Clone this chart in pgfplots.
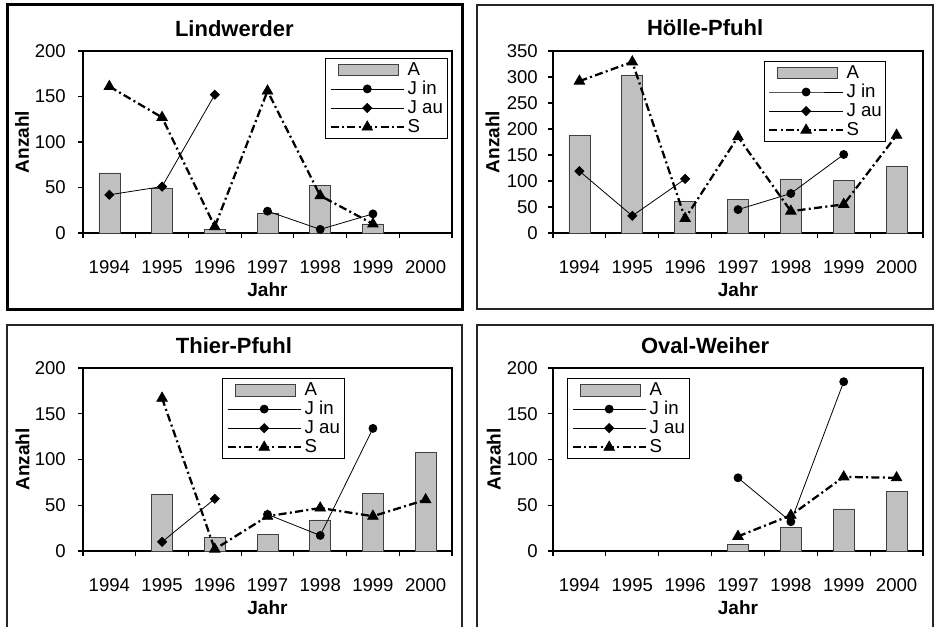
\documentclass[border=0pt]{standalone}
\usepackage{fontspec}
\setmainfont{Liberation Sans}
\usepackage{pgfplots}
\pgfplotsset{compat=1.18}
\definecolor{bargray}{RGB}{192,192,192}
\newcommand{\legfont}{\fontsize{14}{16}\selectfont}

\pgfplotsset{
  panel/.style={
    scale only axis,
    xmin=1993.5, xmax=2000.5,
    ymin=0,
    xtick={1994,1995,1996,1997,1998,1999,2000},
    xticklabels={1994,1995,1996,1997,1998,1999,2000},
    minor xtick={1993.5,1994.5,1995.5,1996.5,1997.5,1998.5,1999.5,2000.5},
    major x tick style={draw=none},
    major tick length=3.75pt,
    minor tick length=3.75pt,
    tick align=outside,
    xtick pos=bottom, ytick pos=left,
    axis line style={line width=0.9pt},
    every tick/.style={black, line width=0.8pt},
    tick label style={font=\fontsize{13.9}{16}\selectfont},
    /pgf/number format/assume math mode=true,
    xticklabel style={anchor=base, yshift=-26.5pt, inner sep=0pt},
    yticklabel style={anchor=east, xshift=-9pt, inner sep=0pt},
    xlabel={Jahr}, ylabel={Anzahl},
    every axis x label/.style={at={(axis description cs:0.5,0)}, anchor=base, yshift=-47.5pt,
       font=\bfseries\fontsize{14.3}{16}\selectfont},
    legend cell align=left,
    legend image code/.code={\draw[mark repeat=2,mark phase=2,#1] plot coordinates {(0pt,0pt) (27.5pt,0pt) (55pt,0pt)};},
    legend style={anchor=north west, draw=black, line width=0.6pt,
       font=\legfont,
       inner xsep=3pt, inner ysep=1.5pt,
       nodes={font=\legfont, inner xsep=0pt, inner ysep=0pt, text height=11.3pt, text depth=3pt},
       /tikz/every odd column/.append style={column sep=2pt}},
  },
  tpos/.style={every axis title/.style={at={(axis description cs:#1,1)}, anchor=base, yshift=11.25pt,
       font=\bfseries\fontsize{16.5}{18}\selectfont}},
  ylab/.style={every axis y label/.style={at={(axis description cs:#1,0.5)}, rotate=90, anchor=center,
       font=\bfseries\fontsize{14.3}{16}\selectfont}},
  Abar/.style={ybar, bar width=15.75pt, fill=bargray, draw=black!75, line width=0.5pt,
       legend image code/.code={\path[draw=black!75, fill=bargray, line width=0.5pt] (0pt,0pt) (55pt,0pt) (6pt,-4.4pt) rectangle (51pt,4.4pt);}},
  Jin/.style={black, line width=0.6pt, mark=*, mark size=3pt, mark options={solid}},
  Jau/.style={black, line width=0.6pt, mark=square*, mark size=2.4pt, mark options={solid, rotate=45}},
  Sline/.style={black, line width=1.7pt, dash pattern=on 6pt off 2.5pt on 1.5pt off 2.5pt,
       mark=triangle*, mark size=4.6pt, mark options={solid, line width=0.5pt}},
}

\begin{document}
\begin{tikzpicture}
\useasboundingbox (0pt,0pt) rectangle (702.75pt,469.5pt);
\fill[white] (0pt,0pt) rectangle (702.75pt,469.5pt);

% frames
\draw[line width=2.25pt, black] (5.25pt,237.75pt) rectangle (346.5pt,465.75pt);
\draw[line width=1.1pt, black!85] (357.75pt,237.75pt) rectangle (699.75pt,465.75pt);
\draw[line width=1.1pt, black!85] (5.25pt,-10pt) rectangle (346.5pt,225.75pt);
\draw[line width=1.1pt, black!85] (357.75pt,-10pt) rectangle (699.75pt,225.75pt);

% Lindwerder
\begin{axis}[panel, tpos=0.41, ylab=-0.165,
  at={(62.25pt,294.75pt)}, anchor=origin, width=276.75pt, height=136.5pt,
  axis line style={line width=1.3pt},
  ymax=200, ytick={0,50,100,150,200},
  title={Lindwerder},
  legend style={at={(rel axis cs:0.656,0.962)}}]
\addplot[Abar] coordinates {(1994,66) (1995,49) (1996,4) (1997,22) (1998,52) (1999,10)};
\addlegendentry{A}
\addplot[Jin] coordinates {(1997,24) (1998,4) (1999,21)};
\addlegendentry{J in}
\addplot[Jau] coordinates {(1994,42) (1995,51) (1996,152)};
\addlegendentry{J au}
\addplot[Sline] coordinates {(1994,161) (1995,127) (1996,7) (1997,156) (1998,41) (1999,10)};
\addlegendentry{S}
\end{axis}

% Hoelle-Pfuhl
\begin{axis}[panel, tpos=0.411, ylab=-0.1635,
  at={(414.75pt,294.75pt)}, anchor=origin, width=277.5pt, height=136.5pt,
  yticklabel style={xshift=1.5pt},
  ymax=350, ytick={0,50,100,150,200,250,300,350},
  title={Hölle-Pfuhl},
  legend style={at={(rel axis cs:0.570,0.945)}}]
\addplot[Abar] coordinates {(1994,187) (1995,304) (1996,60) (1997,64) (1998,104) (1999,101) (2000,129)};
\addlegendentry{A}
\addplot[Jin] coordinates {(1997,45) (1998,76) (1999,151)};
\addlegendentry{J in}
\addplot[Jau] coordinates {(1994,119) (1995,33) (1996,104)};
\addlegendentry{J au}
\addplot[Sline] coordinates {(1994,292) (1995,329) (1996,28) (1997,185) (1998,42) (1999,55) (2000,188)};
\addlegendentry{S}
\end{axis}

% Thier-Pfuhl
\begin{axis}[panel, tpos=0.409, ylab=-0.164,
  at={(62.25pt,56.25pt)}, anchor=origin, width=276.75pt, height=137.25pt,
  ymax=200, ytick={0,50,100,150,200},
  title={Thier-Pfuhl},
  legend style={at={(rel axis cs:0.3767,0.945)}}]
\addplot[Abar] coordinates {(1995,62) (1996,15) (1997,18) (1998,34) (1999,63) (2000,108)};
\addlegendentry{A}
\addplot[Jin] coordinates {(1997,40) (1998,17) (1999,134)};
\addlegendentry{J in}
\addplot[Jau] coordinates {(1995,10) (1996,57)};
\addlegendentry{J au}
\addplot[Sline] coordinates {(1995,167) (1996,2) (1997,38) (1998,47) (1999,38) (2000,56)};
\addlegendentry{S}
\end{axis}

% Oval-Weiher
\begin{axis}[panel, tpos=0.411, ylab=-0.16,
  at={(414.75pt,56.25pt)}, anchor=origin, width=277.5pt, height=137.25pt,
  yticklabel style={xshift=1.5pt},
  ymax=200, ytick={0,50,100,150,200},
  title={Oval-Weiher},
  legend style={at={(rel axis cs:0.0378,0.945)}}]
\addplot[Abar] coordinates {(1997,7) (1998,26) (1999,46) (2000,65)};
\addlegendentry{A}
\addplot[Jin] coordinates {(1997,80) (1998,32) (1999,185)};
\addlegendentry{J in}
\addlegendimage{Jau}
\addlegendentry{J au}
\addplot[Sline] coordinates {(1997,16) (1998,39) (1999,81) (2000,80)};
\addlegendentry{S}
\end{axis}
\end{tikzpicture}
\end{document}
